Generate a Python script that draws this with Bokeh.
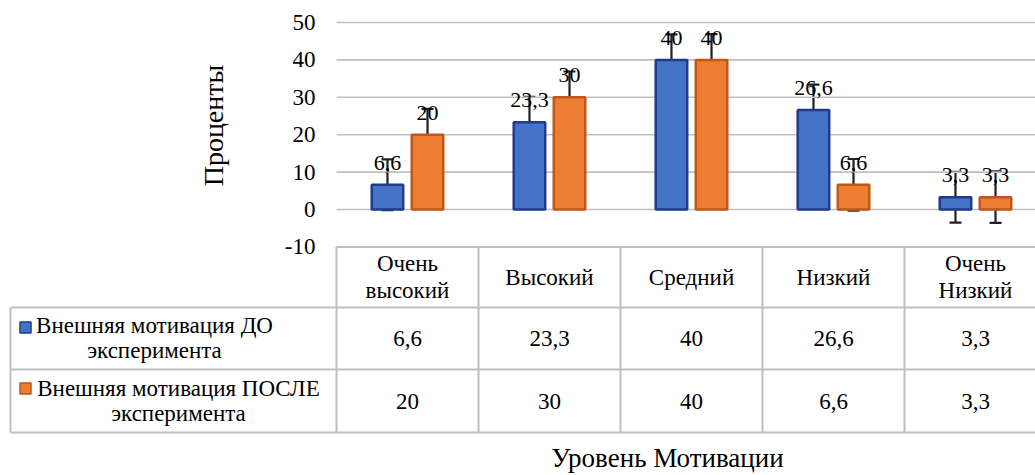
from bokeh.plotting import figure
from bokeh.models import ColumnDataSource, Whisker, TeeHead, Range1d
from bokeh.transform import dodge
from bokeh.core.properties import value
from bokeh.embed import file_html
from bokeh.resources import INLINE

# ---------------- data ----------------
categories = ["Очень\nвысокий", "Высокий", "Средний", "Низкий", "Очень\nНизкий"]
before = [6.6, 23.3, 40, 26.6, 3.3]
after = [20, 30, 40, 6.6, 3.3]
err_before = 6.8
err_after = 6.9
series_names = ["Внешняя мотивация ДО\nэксперимента",
                "Внешняя мотивация ПОСЛЕ\nэксперимента"]
y_ticks = [-10, 0, 10, 20, 30, 40, 50]
y_title = "Проценты"
x_title = "Уровень Мотивации"

# ---------------- layout ----------------
W, H = 1035, 475
PX_CAT = 142.0       # px per category
PX_UNIT = 3.74       # px per percent
X0 = 407             # px of first category centre
Y50 = 22             # px of the 50 gridline

xs = -X0 / PX_CAT
xe = xs + W / PX_CAT
ye = 50 + Y50 / PX_UNIT
ys = ye - H / PX_UNIT


def X(px):
    return xs + px / PX_CAT


def Y(py):
    return ye - py / PX_UNIT


FONT = value("Liberation Serif")
BLUE, BLUE_E = "#4472C4", "#1F3B8C"
ORANGE, ORANGE_E = "#ED7D31", "#C0561A"
GRID = "#BFBFBF"
OFF = 0.141
BW = 0.222

p = figure(width=W, height=H, x_range=Range1d(xs, xe), y_range=Range1d(ys, ye),
           output_backend="svg", toolbar_location=None, min_border=0,
           x_axis_location=None, y_axis_location=None, outline_line_color=None)
p.xgrid.visible = False
p.ygrid.visible = False

n = len(categories)
xi = list(range(n))

# gridlines (0..50)
gl = [t for t in y_ticks if t >= 0]
p.segment(x0=[-0.5] * len(gl), x1=[xe] * len(gl), y0=gl, y1=gl,
          line_color=GRID, line_width=1.6)

# y tick labels
p.text(x=[X(315)] * len(y_ticks), y=y_ticks, text=[str(t) for t in y_ticks],
       text_font=FONT, text_font_size="23px", text_color="#000000",
       text_align="right", text_baseline="middle")

# bars
src = ColumnDataSource(dict(
    x=xi, before=before, after=after,
    xb=[i - OFF for i in xi], xa=[i + OFF for i in xi],
    bl=[f"{v:g}".replace(".", ",") for v in before],
    al=[f"{v:g}".replace(".", ",") for v in after],
    b_up=[v + err_before for v in before], b_lo=[v - err_before for v in before],
    a_up=[v + err_after for v in after], a_lo=[v - err_after for v in after],
))
p.vbar(x=dodge("x", -OFF), top="before", bottom=0, width=BW, source=src,
       fill_color=BLUE, line_color=BLUE_E, line_width=2.5)
p.vbar(x=dodge("x", OFF), top="after", bottom=0, width=BW, source=src,
       fill_color=ORANGE, line_color=ORANGE_E, line_width=2.5)

# error bars
for base, up, lo in (("xb", "b_up", "b_lo"), ("xa", "a_up", "a_lo")):
    w = Whisker(base=base, upper=up, lower=lo, source=src, dimension="height",
                line_color="#202020", line_width=2.2,
                upper_head=TeeHead(size=12, line_color="#202020", line_width=2.2),
                lower_head=TeeHead(size=12, line_color="#202020", line_width=2.2))
    p.add_layout(w)

# data labels
p.text(x="xb", y="before", text="bl", source=src, y_offset=-22,
       text_font=FONT, text_font_size="22px", text_color="#000000",
       text_align="center", text_baseline="middle")
p.text(x="xa", y="after", text="al", source=src, y_offset=-22,
       text_font=FONT, text_font_size="22px", text_color="#000000",
       text_align="center", text_baseline="middle")

# ---------------- data table ----------------
TL = X(10)
top, hdr, r1, r2 = -10, Y(307), Y(369), Y(432)
edges = [i - 0.5 for i in range(n + 1)]
# horizontal lines
p.segment(x0=[-0.5, TL, TL, TL], x1=[xe] * 4, y0=[top, hdr, r1, r2],
          y1=[top, hdr, r1, r2], line_color=GRID, line_width=2)
# vertical lines
p.segment(x0=edges + [TL], x1=edges + [TL], y0=[top] * (n + 1) + [hdr],
          y1=[r2] * (n + 2), line_color=GRID, line_width=2)

TFS = "23px"
p.text(x=xi, y=[(top + hdr) / 2] * n, text=categories, text_font=FONT,
       text_font_size=TFS, text_color="#000000", text_align="center",
       text_baseline="middle", text_line_height=1.1)
p.text(x=xi, y=[(hdr + r1) / 2] * n,
       text=[f"{v:g}".replace(".", ",") for v in before], text_font=FONT,
       text_font_size=TFS, text_color="#000000", text_align="center",
       text_baseline="middle")
p.text(x=xi, y=[(r1 + r2) / 2] * n,
       text=[f"{v:g}".replace(".", ",") for v in after], text_font=FONT,
       text_font_size=TFS, text_color="#000000", text_align="center",
       text_baseline="middle")

# legend keys + series names
p.scatter(x=[X(25), X(25)], y=[Y(327), Y(388)], marker="square", size=11,
          fill_color=[BLUE, ORANGE], line_color=[BLUE_E, ORANGE_E], line_width=1.5)
p.text(x=[X(154), X(178)], y=[Y(337), Y(400)], text=series_names, text_font=FONT,
       text_font_size=TFS, text_color="#000000", text_align="center",
       text_baseline="middle", text_line_height=1.0)

# axis titles
p.text(x=[X(213)], y=[Y(125)], text=[y_title], angle=1.5708, text_font=FONT,
       text_font_size="28px", text_color="#000000", text_align="center",
       text_baseline="middle")
p.text(x=[X(667)], y=[Y(472)], text=[x_title], text_font=FONT,
       text_font_size="27px", text_color="#000000", text_align="center",
       text_baseline="bottom")

open("out.html", "w").write(file_html(p, INLINE))
